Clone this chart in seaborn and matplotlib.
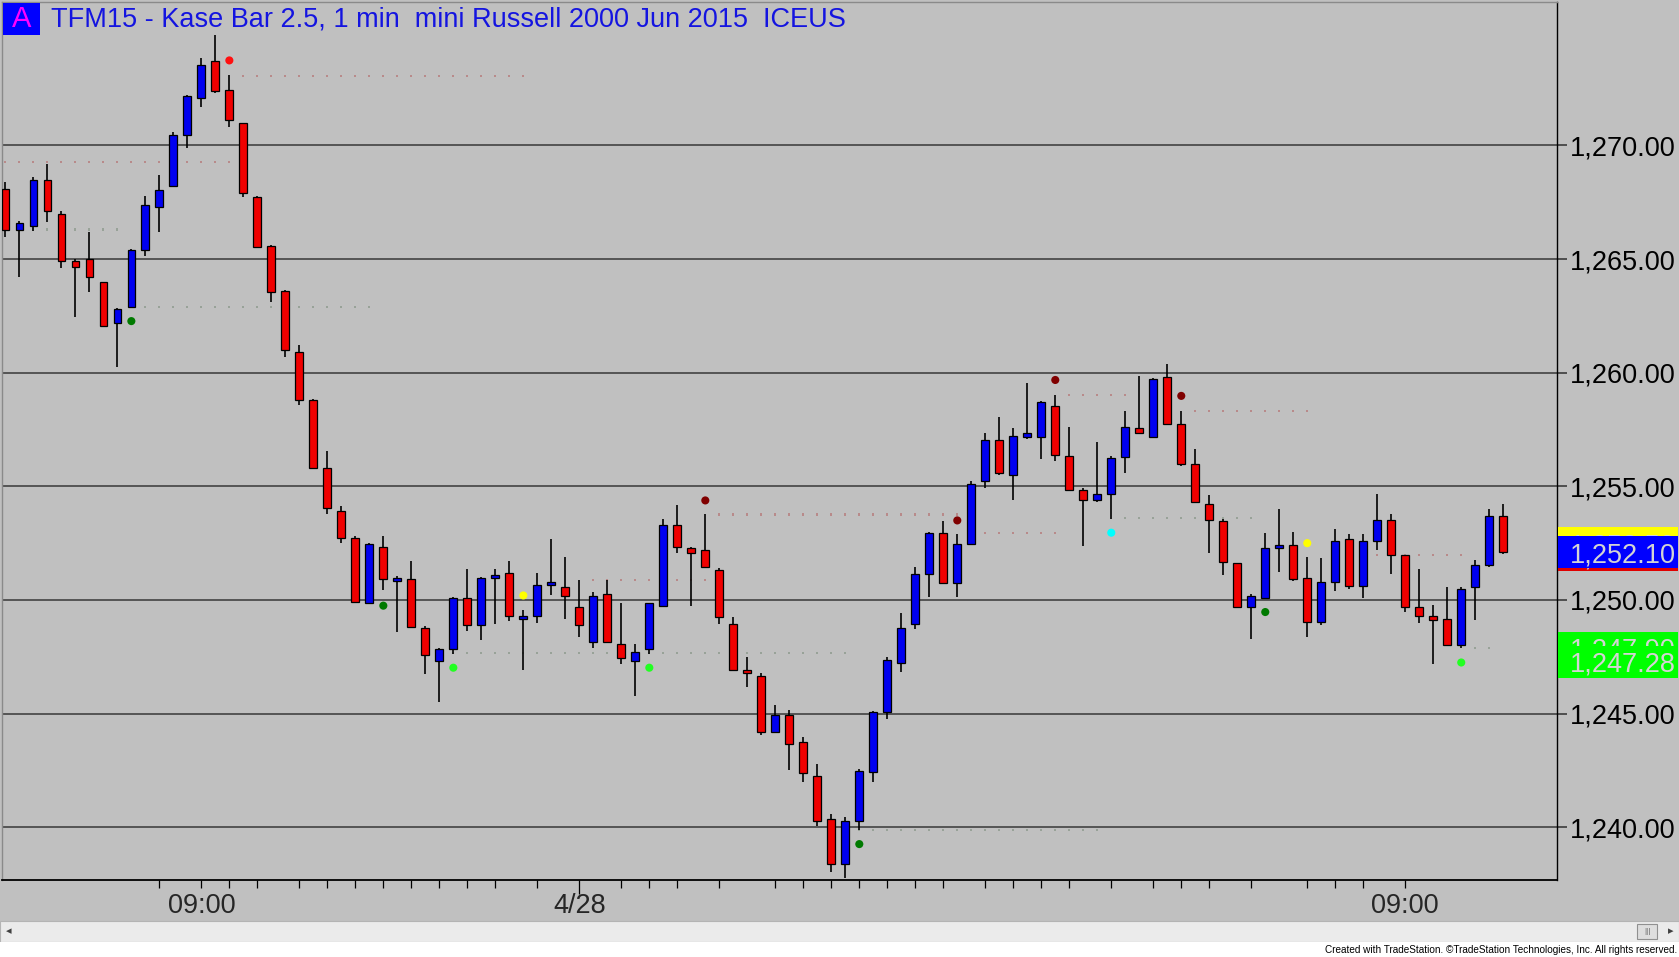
import numpy as np
import pandas as pd
import matplotlib
matplotlib.use('Agg')
import matplotlib.pyplot as plt
import matplotlib.ticker as mticker
from matplotlib.patches import Rectangle
import seaborn as sns

# Kase bar OHLC values (bar 0 = left edge)
opens = [1268.08, 1266.26, 1266.47, 1268.48, 1266.98, 1264.93, 1265.00, 1263.97, 1262.17, 1262.90,
         1265.38, 1267.27, 1268.21, 1270.48, 1272.07, 1273.70, 1272.46, 1270.97, 1267.74, 1265.57,
         1263.59, 1260.92, 1258.82, 1255.80, 1253.93, 1252.72, 1249.87, 1252.34, 1250.84, 1250.92,
         1248.76, 1247.32, 1247.86, 1250.09, 1248.88, 1250.96, 1251.18, 1249.16, 1249.28, 1250.65,
         1250.56, 1249.68, 1248.17, 1250.25, 1248.05, 1247.32, 1247.86, 1249.75, 1253.30, 1252.28,
         1252.18, 1251.33, 1248.96, 1246.94, 1246.65, 1244.17, 1244.96, 1243.73, 1242.25, 1240.35,
         1238.38, 1240.26, 1242.44, 1245.05, 1247.23, 1248.96, 1251.13, 1252.96, 1250.76, 1252.48,
         1255.22, 1257.04, 1255.52, 1257.18, 1257.18, 1258.54, 1256.33, 1254.82, 1254.41, 1254.68,
         1256.30, 1257.58, 1257.18, 1259.79, 1257.73, 1256.00, 1254.22, 1253.48, 1251.61, 1249.69,
         1250.10, 1252.28, 1252.44, 1250.96, 1249.04, 1250.78, 1252.68, 1250.63, 1252.59, 1253.54,
         1251.96, 1249.68, 1249.28, 1249.16, 1248.03, 1250.56, 1251.54, 1253.69]
highs = [1268.40, 1266.69, 1268.62, 1269.20, 1267.13, 1265.00, 1266.20, 1264.00, 1262.83, 1265.43,
         1267.77, 1268.70, 1270.60, 1272.21, 1273.83, 1274.88, 1273.09, 1271.00, 1267.77, 1265.60,
         1263.62, 1261.21, 1258.85, 1256.54, 1254.15, 1252.80, 1252.52, 1252.82, 1251.05, 1251.72,
         1248.86, 1247.90, 1250.15, 1251.37, 1251.00, 1251.37, 1251.70, 1249.56, 1251.19, 1252.70,
         1251.89, 1250.88, 1250.37, 1250.88, 1249.85, 1248.05, 1249.88, 1253.55, 1254.20, 1252.32,
         1253.78, 1251.42, 1249.27, 1247.50, 1246.80, 1245.37, 1245.15, 1243.95, 1242.78, 1240.58,
         1240.44, 1242.56, 1245.10, 1247.47, 1249.44, 1251.45, 1253.00, 1253.47, 1252.92, 1255.22,
         1257.36, 1258.07, 1257.58, 1259.54, 1258.75, 1259.01, 1257.63, 1254.93, 1256.95, 1256.33,
         1258.32, 1259.84, 1259.75, 1260.38, 1258.32, 1256.65, 1254.63, 1253.55, 1251.64, 1250.28,
         1252.94, 1254.01, 1252.99, 1251.88, 1251.85, 1253.13, 1252.91, 1252.91, 1254.68, 1253.79,
         1251.99, 1251.37, 1249.78, 1250.59, 1250.56, 1251.76, 1254.01, 1254.21]
lows = [1265.98, 1264.19, 1266.25, 1266.64, 1264.59, 1262.46, 1263.56, 1262.00, 1260.26, 1262.87,
        1265.15, 1266.17, 1268.18, 1269.87, 1271.67, 1272.29, 1270.79, 1267.74, 1265.47, 1263.09,
        1260.67, 1258.56, 1255.77, 1253.80, 1252.52, 1249.88, 1249.83, 1250.42, 1248.60, 1248.78,
        1246.76, 1245.52, 1247.64, 1248.64, 1248.23, 1248.94, 1249.06, 1246.90, 1248.97, 1250.24,
        1249.16, 1248.35, 1247.88, 1248.15, 1247.17, 1245.77, 1247.64, 1249.72, 1252.05, 1249.74,
        1251.45, 1248.96, 1246.92, 1246.15, 1244.07, 1244.15, 1242.53, 1241.97, 1240.07, 1238.02,
        1237.77, 1239.88, 1241.97, 1244.76, 1246.84, 1248.74, 1250.13, 1250.74, 1250.13, 1252.45,
        1254.93, 1255.52, 1254.41, 1257.09, 1256.21, 1256.11, 1254.80, 1252.37, 1254.29, 1253.55,
        1255.59, 1257.30, 1257.15, 1257.70, 1255.91, 1254.27, 1252.08, 1251.09, 1249.66, 1248.27,
        1250.07, 1251.25, 1250.85, 1248.35, 1248.90, 1250.38, 1250.49, 1250.09, 1252.18, 1251.15,
        1249.46, 1248.97, 1247.18, 1247.96, 1247.88, 1249.12, 1251.44, 1252.04]
closes = [1266.28, 1266.58, 1268.48, 1267.10, 1264.90, 1264.66, 1264.20, 1262.07, 1262.79, 1265.40,
          1267.36, 1268.06, 1270.48, 1272.18, 1273.56, 1272.38, 1271.10, 1267.89, 1265.54, 1263.56,
          1261.00, 1258.80, 1255.80, 1254.03, 1252.72, 1249.92, 1252.45, 1250.93, 1250.98, 1248.82,
          1247.57, 1247.86, 1250.09, 1248.88, 1250.96, 1251.09, 1249.28, 1249.28, 1250.66, 1250.78,
          1250.16, 1248.88, 1250.16, 1248.17, 1247.46, 1247.73, 1249.85, 1253.30, 1252.35, 1252.05,
          1251.46, 1249.27, 1246.94, 1246.78, 1244.17, 1244.96, 1243.66, 1242.38, 1240.29, 1238.38,
          1240.29, 1242.49, 1245.08, 1247.35, 1248.75, 1251.16, 1252.96, 1250.76, 1252.45, 1255.12,
          1257.04, 1255.59, 1257.21, 1257.33, 1258.72, 1256.40, 1254.82, 1254.41, 1254.68, 1256.24,
          1257.61, 1257.33, 1259.72, 1257.73, 1255.99, 1254.29, 1253.50, 1251.68, 1249.69, 1250.16,
          1252.29, 1252.44, 1250.93, 1249.04, 1250.78, 1252.59, 1250.63, 1252.59, 1253.54, 1251.96,
          1249.68, 1249.28, 1249.13, 1248.03, 1250.49, 1251.56, 1253.69, 1252.10]

# indicator dots
dot_bar = [9, 16, 27, 32, 37, 46, 50, 61, 68, 75, 79, 84, 90, 93, 104]
dot_price = [1262.27, 1273.74, 1249.75, 1247.02, 1250.20, 1247.02, 1254.38, 1239.26,
             1253.50, 1259.68, 1252.96, 1258.98, 1249.47, 1252.50, 1247.25]
dot_kind = ['dkgreen', 'red', 'dkgreen', 'lime', 'yellow', 'lime', 'dkred', 'dkgreen',
            'dkred', 'dkred', 'cyan', 'dkred', 'dkgreen', 'yellow', 'lime']

# faint dotted stop levels
level_price = [1269.25, 1273.06, 1266.30, 1262.90, 1250.88, 1247.65, 1253.76, 1239.88,
               1252.94, 1259.01, 1253.60, 1258.32, 1251.96, 1247.90]
level_start = [0, 17, 2, 9, 42, 32, 51, 61, 70, 76, 80, 85, 98, 105]
level_end = [16, 37, 8, 26, 50, 60, 68, 78, 75, 80, 89, 93, 104, 106]
level_kind = ['up', 'up', 'dn', 'dn', 'up', 'dn', 'up', 'dn', 'up', 'up', 'dn', 'up', 'up', 'dn']

price_ticks = [1240, 1245, 1250, 1255, 1260, 1265, 1270]
time_bars = [14, 41, 100]
time_labels = ['09:00', '4/28', '09:00']
minor_bars = [11, 16, 18, 21, 23, 25, 27, 29, 31, 33, 35, 38, 44, 46, 48, 51, 55, 57, 59, 61,
              63, 65, 67, 70, 72, 74, 76, 79, 82, 84, 86, 89, 93, 95, 97]

# price markers on the right scale (drawn in this order)
marker_prices = [1252.50, 1251.96, 1252.10, 1247.90, 1247.28]
marker_colors = ['#ffff00', '#e00000', '#0000ff', '#00ff00', '#00ff00']

title = 'TFM15 - Kase Bar 2.5, 1 min  mini Russell 2000 Jun 2015  ICEUS'

SILVER = '#c0c0c0'
sns.set_theme(style='white', rc={'axes.facecolor': SILVER, 'figure.facecolor': SILVER})
plt.rcParams['font.family'] = ['Liberation Sans', 'DejaVu Sans']

W, H = 1679, 957
fig = plt.figure(figsize=(W / 100, H / 100), dpi=100)
ax = fig.add_axes([2 / W, (H - 880) / H, 1555 / W, 878 / H])

df = pd.DataFrame({'open': opens, 'high': highs, 'low': lows, 'close': closes})
df['bar'] = np.arange(len(df))
up = df['close'] >= df['open']
body_lo = np.minimum(df['open'], df['close'])
body_h = np.maximum((df['close'] - df['open']).abs(), 0.08)

ax.vlines(df['bar'], df['low'], df['high'], color='black', lw=1.2, zorder=2)
ax.bar(df['bar'], body_h, bottom=body_lo, width=0.55,
       color=np.where(up, '#0000f0', '#f00000'), edgecolor='black', linewidth=0.9, zorder=3)

# dotted levels, one dot per bar
rows = []
for p, a, b, k in zip(level_price, level_start, level_end, level_kind):
    for x in range(a, b + 1):
        rows.append((x, p, k))
lv = pd.DataFrame(rows, columns=['bar', 'price', 'kind'])
sns.scatterplot(data=lv, x='bar', y='price', hue='kind', palette={'up': '#b88a8a', 'dn': '#98a298'},
                marker='s', s=2.2, linewidth=0, legend=False, ax=ax, zorder=1)

dots = pd.DataFrame({'bar': dot_bar, 'price': dot_price, 'kind': dot_kind})
sns.scatterplot(data=dots, x='bar', y='price', hue='kind',
                palette={'dkgreen': '#007a00', 'red': '#ff1010', 'lime': '#22ff22', 'yellow': '#ffff00',
                         'dkred': '#800000', 'cyan': '#00ffff'},
                marker='o', s=34, linewidth=0, legend=False, ax=ax, zorder=4)

ax.set_xlim(-0.24, 110.84)
ax.set_ylim(1237.68, 1276.31)
ax.set_xlabel('')
ax.set_ylabel('')

ax.yaxis.tick_right()
ax.set_yticks(price_ticks)
ax.yaxis.set_major_formatter(mticker.FuncFormatter(lambda v, pos: f'{v:,.2f}'))
ax.tick_params(axis='y', which='major', right=True, left=False, length=7.5, width=1.1,
               color='#303030', labelsize=19.5, pad=2, labelcolor='black')
ax.grid(axis='y', color='#383838', lw=1.1)
ax.grid(axis='x', visible=False)

ax.set_xticks(time_bars)
ax.set_xticklabels(time_labels)
ax.set_xticks(minor_bars, minor=True)
ax.tick_params(axis='x', which='both', bottom=True, direction='out', length=5.5, width=0.9,
               color='black', labelsize=19.5, pad=4)
ax.xaxis.get_major_ticks()[1].tick1line.set_markersize(10)

for side in ['left', 'top']:
    ax.spines[side].set_color('#8a8a8a')
    ax.spines[side].set_linewidth(1)
ax.spines['right'].set_color('black')
ax.spines['right'].set_linewidth(1)
ax.spines['bottom'].set_color('black')
ax.spines['bottom'].set_linewidth(1.3)

# price markers on the scale (later boxes cover earlier ones, as on the chart)
trans = ax.get_yaxis_transform()
box_w = 120 / 1555
for k, (p, c) in enumerate(zip(marker_prices, marker_colors)):
    ax.add_patch(Rectangle((1.0008, p - 0.705), box_w, 1.41, transform=trans, clip_on=False,
                           facecolor=c, edgecolor='none', zorder=10 + 2 * k))
    ax.text(1 + 13 / 1555, p, f'{p:,.2f}', transform=trans, color='#d4d4d4', fontsize=19.5,
            ha='left', va='center_baseline', clip_on=False, zorder=11 + 2 * k)

# title block
fig.add_artist(Rectangle((3 / W, 1 - 35 / H), 37 / W, 32 / H, transform=fig.transFigure,
                         facecolor='#0000ff', edgecolor='none'))
fig.text(21.5 / W, 1 - 19 / H, 'A', color='#ff00ff', fontsize=21, ha='center', va='center')
fig.text(51 / W, 1 - 19 / H, title, color='#1414e0', fontsize=19.5, ha='left', va='center')

# scroll bar and footer
fig.add_artist(Rectangle((0, 15 / H), 1, 21 / H, transform=fig.transFigure,
                         facecolor='#ebebeb', edgecolor='#b4b4b4', lw=0.8))
fig.add_artist(Rectangle((1637 / W, 18 / H), 20 / W, 15 / H, transform=fig.transFigure,
                         facecolor='#dedede', edgecolor='#909090', lw=0.8))
fig.text(1647 / W, 25.5 / H, '|||', fontsize=6, ha='center', va='center', color='#606060')
fig.text(9 / W, 25.5 / H, '\u25c2', fontsize=8, ha='center', va='center', color='#404040')
fig.text(1671 / W, 25.5 / H, '\u25b8', fontsize=8, ha='center', va='center', color='#404040')
fig.add_artist(Rectangle((0, 0), 1, 15 / H, transform=fig.transFigure,
                         facecolor='white', edgecolor='none'))
fig.text(1677 / W, 7 / H, 'Created with TradeStation. \u00a9TradeStation Technologies, Inc. All rights reserved.',
         fontsize=7.2, ha='right', va='center', color='black')

fig.savefig('out.png', dpi=100, facecolor=fig.get_facecolor())
